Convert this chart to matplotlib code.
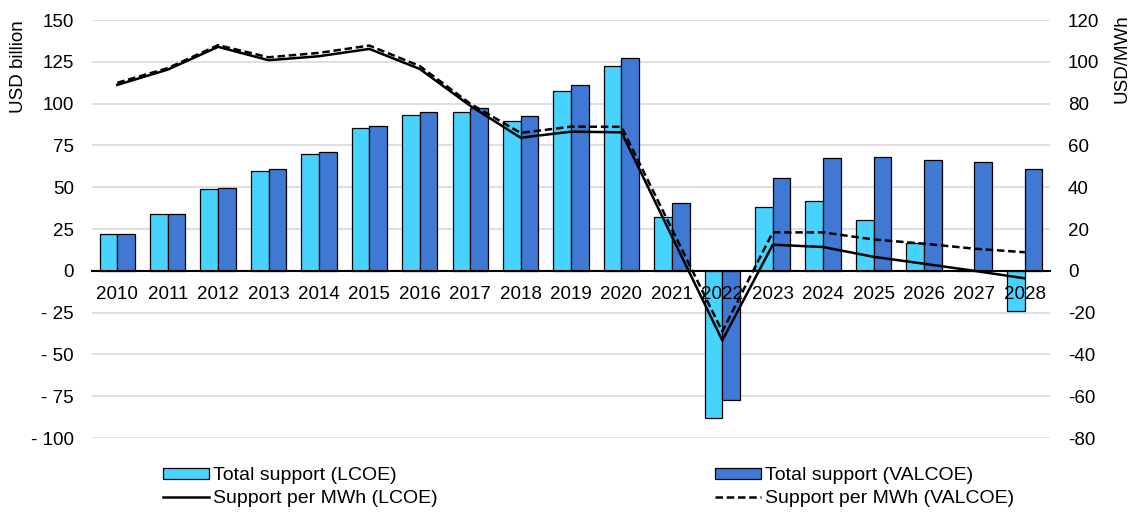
import matplotlib
matplotlib.use("Agg")
import matplotlib.pyplot as plt
import numpy as np

plt.rcParams["font.family"] = ["Liberation Sans", "DejaVu Sans"]

jahre = [str(j) for j in range(2010, 2029)]
support_lcoe = [22, 33.8, 49.2, 60, 69.8, 85.2, 93.4, 94.8, 89.8, 107.8, 122.6,
                32.4, -88.2, 38, 41.8, 30.6, 16.5, 0, -23.8]
support_valcoe = [22, 34.2, 49.8, 60.8, 70.8, 86.4, 95, 97.2, 92.6, 111.2, 127.2,
                  40.4, -77.2, 55.4, 67.4, 68, 66.4, 65.2, 61.2]
mwh_lcoe = [89, 96.3, 107.2, 100.8, 102.7, 106.2, 96.6, 79, 63.7, 66.6, 66.3,
            16.5, -33.3, 12.5, 11.4, 6.7, 3.4, 0, -3.6]
mwh_valcoe = [90, 97, 108, 102.2, 104.3, 107.8, 98, 80, 66, 69, 68.9,
              20, -29, 18.4, 18.4, 15, 13, 10.6, 8.9]

links_ticks = list(range(-100, 151, 25))
rechts_ticks = list(range(-80, 121, 20))

farbe_lcoe = "#48D3FF"
farbe_valcoe = "#3F79D4"
schrift = 13.5

fig = plt.figure(figsize=(11.37, 5.15), dpi=100)
ax = fig.add_axes([0.081, 0.1495, 0.8425, 0.8115])
ax2 = ax.twinx()

x = np.arange(len(jahre))
b = 0.35
balken1 = ax.bar(x - b / 2, support_lcoe, b, color=farbe_lcoe, edgecolor="black",
                 linewidth=0.9, zorder=2, label="Total support (LCOE)")
balken2 = ax.bar(x + b / 2, support_valcoe, b, color=farbe_valcoe, edgecolor="black",
                 linewidth=0.9, zorder=2, label="Total support (VALCOE)")

linie1, = ax2.plot(x, mwh_lcoe, color="black", linewidth=1.8,
                   label="Support per MWh (LCOE)")
linie2, = ax2.plot(x, mwh_valcoe, color="black", linewidth=1.8, linestyle=(0, (3, 1.5)),
                   label="Support per MWh (VALCOE)")

ax.set_xlim(-0.5, len(jahre) - 0.5)
ax.set_ylim(-100, 150)
ax2.set_ylim(-80, 120)

ax.set_yticks(links_ticks)
ax.set_yticklabels([f"- {abs(t)}" if t < 0 else str(t) for t in links_ticks])
ax2.set_yticks(rechts_ticks)
ax2.set_yticklabels([str(t) for t in rechts_ticks])

ax.set_xticks(x)
ax.set_xticklabels(jahre)

ax.yaxis.grid(True, color="#d9d9d9", linewidth=1.2, zorder=0)
ax.set_axisbelow(True)
# Jahreszahlen sollen über den negativen Balken liegen
ax.xaxis.set_zorder(3)

for s in ["top", "right", "left"]:
    ax.spines[s].set_visible(False)
for s in ["top", "right", "left", "bottom"]:
    ax2.spines[s].set_visible(False)
ax.spines["bottom"].set_position(("data", 0))
ax.spines["bottom"].set_linewidth(1.5)
ax.spines["bottom"].set_zorder(3)

ax.tick_params(axis="x", length=0, pad=11, labelsize=schrift)
ax.tick_params(axis="y", length=0, pad=13, labelsize=schrift)
ax2.tick_params(axis="y", length=0, pad=13, labelsize=schrift)

fig.text(19 / 1137, 1 - 67 / 515, "USD billion", rotation=90, ha="center", va="center",
         fontsize=schrift)
fig.text(1122.5 / 1137, 1 - 59 / 515, "USD/MWh", rotation=90, ha="center", va="center",
         fontsize=schrift)

fig.legend(handles=[balken1, linie1, balken2, linie2], ncol=2, mode="expand",
           loc="lower left", bbox_to_anchor=(155 / 1137, 0.0, (1022 - 155) / 1137, 0.12),
           frameon=False, fontsize=14, handlelength=2.4, handletextpad=0.2,
           labelspacing=0.3, borderaxespad=0.0, handleheight=0.5)

fig.savefig("out.png", dpi=100)
